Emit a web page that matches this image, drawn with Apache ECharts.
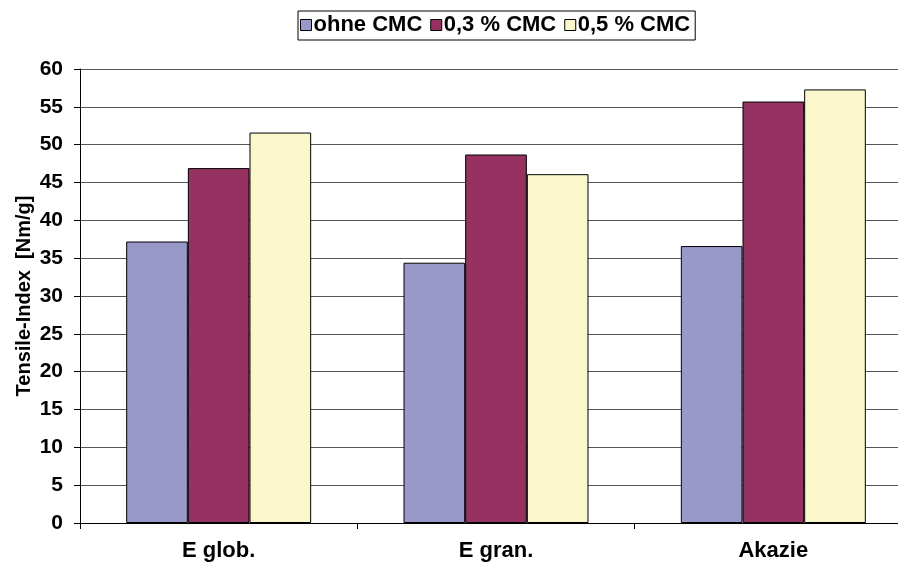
<!DOCTYPE html>
<html>
<head>
<meta charset="utf-8">
<script src="https://cdn.jsdelivr.net/npm/echarts@6/dist/echarts.min.js"></script>
<style>
  html, body { margin: 0; padding: 0; background: #fff; overflow: hidden; }
  #frame { width: 898px; height: 563px; overflow: hidden; position: relative; }
  /* the plot area runs slightly past the right edge of the frame */
  #chart { position: absolute; left: 0; top: 0; width: 912px; height: 563px; }
</style>
</head>
<body>
<div id="frame"><div id="chart"></div></div>
<script>
// Wood species / pulp types on the category axis
const categories = ['E glob.', 'E gran.', 'Akazie'];

// Tensile index per CMC dosage [Nm/g]
const ohneCMC = [37.2, 34.4, 36.6];
const cmc03 = [46.9, 48.7, 55.7];
const cmc05 = [51.6, 46.1, 57.3];

const seriesNames = ['ohne CMC', '0,3 % CMC', '0,5 % CMC'];
const seriesColors = ['#9898C9', '#953262', '#FAF7CC'];

const FONT = '"Liberation Sans", Arial, sans-serif';

const chart = echarts.init(document.getElementById('chart'), null, { width: 912, height: 563 });

const makeSeries = (name, data, color) => ({
  name: name,
  type: 'bar',
  data: data,
  barGap: '0%',
  barCategoryGap: '33.3%',
  itemStyle: { color: color, borderColor: '#000', borderWidth: 1 },
  emphasis: { disabled: true }
});

chart.setOption({
  animation: false,
  backgroundColor: '#fff',
  textStyle: { fontFamily: FONT },
  legend: {
    data: seriesNames,
    left: 298,
    top: 11,
    padding: [3, 5, 4, 2],
    itemWidth: 11,
    itemHeight: 11,
    itemGap: 8,
    icon: 'rect',
    borderColor: '#000',
    borderWidth: 1,
    textStyle: { fontFamily: FONT, fontWeight: 'bold', fontSize: 22, color: '#000', padding: [0, 0, 0, -3] },
    itemStyle: { borderColor: '#000', borderWidth: 1 }
  },
  grid: { left: 80, top: 69, right: 0, bottom: 40, containLabel: false, outerBoundsMode: 'none' },
  xAxis: {
    type: 'category',
    data: categories,
    axisLine: { lineStyle: { color: '#000', width: 1 } },
    axisTick: { show: true, length: 6, alignWithLabel: false, lineStyle: { color: '#000' } },
    axisLabel: { margin: 17, fontFamily: FONT, fontWeight: 'bold', fontSize: 22, color: '#000' },
    splitLine: { show: false }
  },
  yAxis: {
    type: 'value',
    min: 0,
    max: 60,
    interval: 5,
    name: 'Tensile-Index  [Nm/g]',
    nameLocation: 'middle',
    nameGap: 46,
    nameMoveOverlap: false,
    nameRotate: 90,
    nameTextStyle: { fontFamily: FONT, fontWeight: 'bold', fontSize: 20, color: '#000' },
    axisLine: { show: true, lineStyle: { color: '#000', width: 1 } },
    axisTick: { show: true, length: 6, lineStyle: { color: '#000' } },
    axisLabel: { margin: 17, fontFamily: FONT, fontWeight: 'bold', fontSize: 21, color: '#000' },
    splitLine: { show: true, lineStyle: { color: '#555', width: 1 } }
  },
  series: [
    makeSeries(seriesNames[0], ohneCMC, seriesColors[0]),
    makeSeries(seriesNames[1], cmc03, seriesColors[1]),
    makeSeries(seriesNames[2], cmc05, seriesColors[2])
  ]
});
</script>
</body>
</html>
